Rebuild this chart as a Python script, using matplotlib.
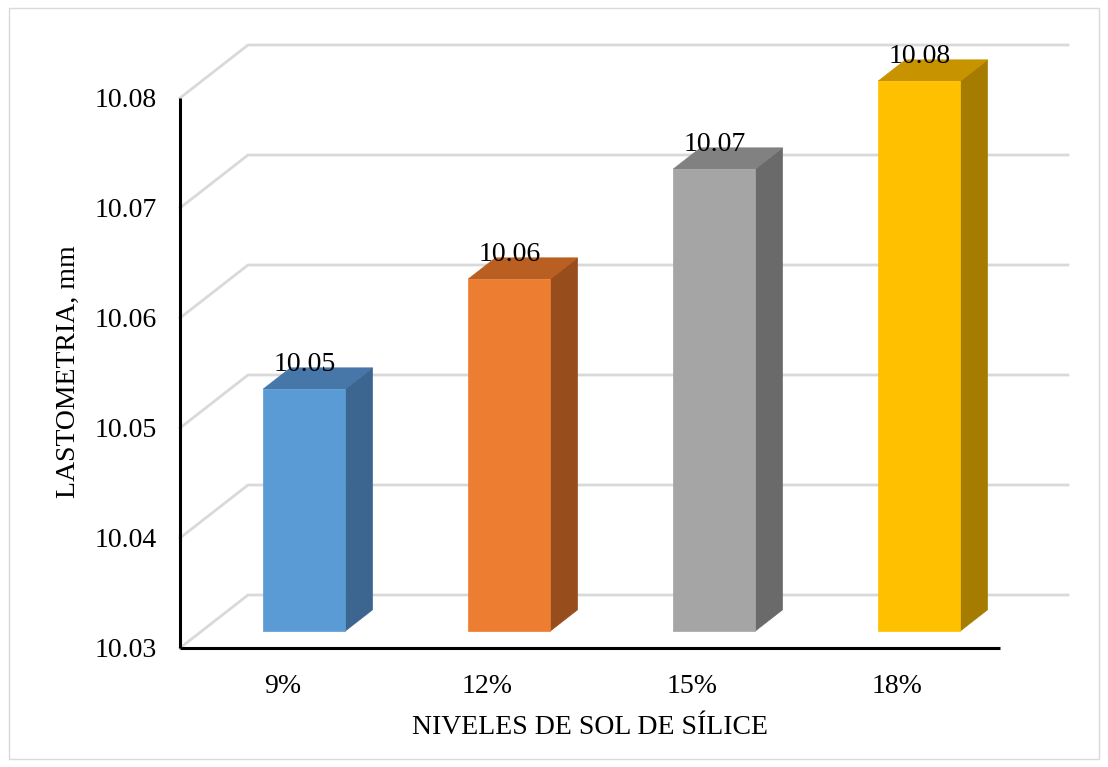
import matplotlib
matplotlib.use("Agg")
import matplotlib.pyplot as plt
from matplotlib.patches import Polygon, Rectangle

# Data
categories = ["9%", "12%", "15%", "18%"]
values = [10.052, 10.062, 10.072, 10.080]
y_ticks = [10.03, 10.04, 10.05, 10.06, 10.07, 10.08]
y_min, y_max = 10.03, 10.08

front_colors = ["#5B9BD5", "#ED7D31", "#A5A5A5", "#FFC000"]
top_colors = ["#4677A8", "#BA5F22", "#818181", "#C79400"]
side_colors = ["#3C6590", "#984D1D", "#6A6A6A", "#A67C00"]

plt.rcParams["font.family"] = ["Liberation Serif", "DejaVu Serif"]
FS = 20

W, H, DPI = 1108, 767, 100
fig = plt.figure(figsize=(W / DPI, H / DPI), dpi=DPI)

# plot area geometry (pixels)
px_left, px_bottom, px_right, px_top = 180, 648, 1070, 45
cat_px = 205.0          # pixels per category slot
val_px = 11000.0        # pixels per value unit
ax = fig.add_axes([px_left / W, (H - px_bottom) / H,
                   (px_right - px_left) / W, (px_bottom - px_top) / H])
ax.set_xlim(0, (px_right - px_left) / cat_px)
ax.set_ylim(y_min, y_min + (px_bottom - px_top) / val_px)
for s in ax.spines.values():
    s.set_visible(False)
ax.patch.set_alpha(0)

# depth of the oblique projection, in data units
DX = 68 / cat_px
DY = 53 / val_px
n = len(categories)

# back wall gridlines and side-wall diagonals
grid_c = "#D9D9D9"
for t in y_ticks:
    ax.plot([0, DX, n + DX], [t, t + DY, t + DY], color=grid_c, lw=2,
            solid_joinstyle="miter", zorder=1, clip_on=False)

# front axes lines
ax.plot([0, n], [y_min, y_min], color="black", lw=2.2, zorder=5,
        solid_capstyle="butt", clip_on=False)
ax.plot([0, 0], [y_min, y_max], color="black", lw=2.2, zorder=5,
        solid_capstyle="butt", clip_on=False)

# 3D bars
f_front, f_back = 0.32, 0.72
bar_w = 0.4
for i, v in enumerate(values):
    x0 = i + 0.5 - bar_w / 2
    x1 = x0 + bar_w
    fx, fy = f_front * DX, f_front * DY
    bx, by = f_back * DX, f_back * DY
    front = [(x0 + fx, y_min + fy), (x1 + fx, y_min + fy),
             (x1 + fx, v + fy), (x0 + fx, v + fy)]
    side = [(x1 + fx, y_min + fy), (x1 + bx, y_min + by),
            (x1 + bx, v + by), (x1 + fx, v + fy)]
    top = [(x0 + fx, v + fy), (x1 + fx, v + fy),
           (x1 + bx, v + by), (x0 + bx, v + by)]
    for poly, c in ((side, side_colors[i]), (top, top_colors[i]),
                    (front, front_colors[i])):
        ax.add_patch(Polygon(poly, closed=True, facecolor=c,
                             edgecolor=c, lw=0.5, zorder=3))
    ax.annotate(f"{v:.2f}", xy=((x0 + x1) / 2 + fx, v + fy),
                xytext=(0, 18), textcoords="offset pixels",
                ha="center", va="baseline", fontsize=FS, zorder=6)

# ticks and labels
ax.set_yticks(y_ticks)
ax.set_yticklabels([f"{t:.2f}" for t in y_ticks], fontsize=FS)
ax.set_xticks([i + 0.5 for i in range(n)])
ax.set_xticklabels(categories, fontsize=FS)
ax.tick_params(axis="y", length=0, pad=17)
ax.tick_params(axis="x", length=0, pad=19)

fig.text(590 / W, 1 - 728 / H, "NIVELES DE SOL DE SÍLICE", ha="center",
         va="center", fontsize=FS)
fig.text(68 / W, 1 - 372 / H, "LASTOMETRIA, mm", ha="center",
         va="center", rotation=90, fontsize=FS)

# chart area border
fig.patches.append(Rectangle((9 / W, 8 / H), (W - 18) / W, (H - 16) / H,
                             transform=fig.transFigure, fill=False,
                             edgecolor="#D9D9D9", lw=1))

fig.savefig("out.png", dpi=DPI)
